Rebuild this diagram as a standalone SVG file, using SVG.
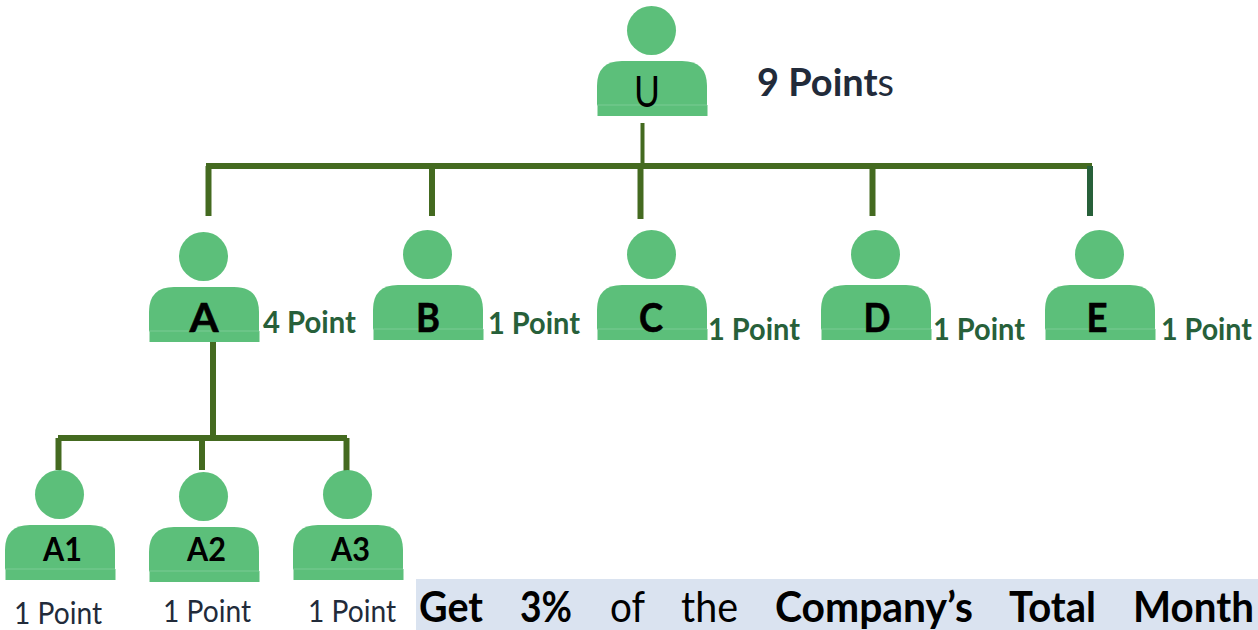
<svg xmlns="http://www.w3.org/2000/svg" width="1258" height="630" viewBox="0 0 1258 630">
<style>
text{font-family:"Lato","Open Sans","Liberation Sans",sans-serif;}
.c{stroke:#446a20;fill:none;}
.n{font-size:41px;font-weight:700;fill:#000;text-anchor:middle;stroke:#000;stroke-width:.6px;}
.s{font-size:33px;font-weight:700;fill:#000;}
.g{font-size:31px;font-weight:700;fill:#27603a;}
.d{font-size:30px;fill:#222b3a;}
.w{font-size:42px;fill:#000;}
.b{font-weight:700;}
.h{font-size:38px;fill:#222b3a;}
</style>
<defs>
<g id="person">
<circle cx="54.5" cy="-30.500" r="24.5" fill="#5cbf7a"/>
<path d="M0 44V25Q0 0 25 0H85Q110 0 110 25V44Z" fill="#5cbf7a"/>
<rect x="0.500" y="44" width="110" height="11" fill="#5cbf7a"/>
<rect x="0" y="43.500" width="110" height="1" fill="#7bcb94"/>
</g>
</defs>
<g id="connectors">
<path class="c" stroke-width="4" d="M642.500 123V166"/>
<path class="c" stroke-width="6" d="M206 166H1092"/>
<path class="c" stroke-width="6" d="M208.500 166V216"/>
<path class="c" stroke-width="6" d="M432 166V216"/>
<path class="c" stroke-width="6" d="M640.500 166V219"/>
<path class="c" stroke-width="6" d="M872.500 166V216"/>
<path stroke="#27603a" fill="none" stroke-width="6" d="M1090 166V216"/>
<path class="c" stroke-width="6" d="M213 342V438"/>
<path class="c" stroke-width="6" d="M58 438H347"/>
<path class="c" stroke-width="6" d="M58.500 438V470"/>
<path class="c" stroke-width="6" d="M202 438V470"/>
<path class="c" stroke-width="6" d="M346.500 438V472"/>
</g>
<g id="node-U"><use href="#person" x="597" y="61"/><text x="647" y="107" font-size="42" fill="#000" text-anchor="middle" textLength="26" lengthAdjust="spacingAndGlyphs">U</text></g>
<text class="h" x="757" y="96" textLength="137" lengthAdjust="spacingAndGlyphs"><tspan class="b">9 Point</tspan>s</text>
<g id="node-A"><use href="#person" x="149" y="287"/><text class="n" x="204" y="332" textLength="29" lengthAdjust="spacingAndGlyphs">A</text><text class="g" x="263" y="333" textLength="93" lengthAdjust="spacingAndGlyphs">4 Point</text></g>
<g id="node-B"><use href="#person" x="373" y="285"/><text class="n" x="428" y="332" textLength="24" lengthAdjust="spacingAndGlyphs">B</text><text class="g" x="488" y="334" textLength="92" lengthAdjust="spacingAndGlyphs">1 Point</text></g>
<g id="node-C"><use href="#person" x="597" y="285"/><text class="n" x="651" y="332" textLength="24" lengthAdjust="spacingAndGlyphs">C</text><text class="g" x="708" y="340" textLength="92" lengthAdjust="spacingAndGlyphs">1 Point</text></g>
<g id="node-D"><use href="#person" x="821" y="285"/><text class="n" x="877" y="332" textLength="27" lengthAdjust="spacingAndGlyphs">D</text><text class="g" x="933" y="340" textLength="92" lengthAdjust="spacingAndGlyphs">1 Point</text></g>
<g id="node-E"><use href="#person" x="1045" y="285"/><text class="n" x="1097" y="332" textLength="21" lengthAdjust="spacingAndGlyphs">E</text><text class="g" x="1161" y="340" textLength="91" lengthAdjust="spacingAndGlyphs">1 Point</text></g>
<g id="node-A1"><use href="#person" x="5" y="525"/><text class="s" x="43" y="561" textLength="39" lengthAdjust="spacingAndGlyphs">A1</text><text class="d" x="14" y="624" textLength="88" lengthAdjust="spacingAndGlyphs">1 Point</text></g>
<g id="node-A2"><use href="#person" x="149" y="527"/><text class="s" x="187" y="561" textLength="39" lengthAdjust="spacingAndGlyphs">A2</text><text class="d" x="163" y="622" textLength="88" lengthAdjust="spacingAndGlyphs">1 Point</text></g>
<g id="node-A3"><use href="#person" x="293" y="525"/><text class="s" x="331" y="561" textLength="39" lengthAdjust="spacingAndGlyphs">A3</text><text class="d" x="308" y="622" textLength="88" lengthAdjust="spacingAndGlyphs">1 Point</text></g>
<rect x="416" y="579" width="842" height="51" fill="#dae3f0"/>
<g>
<text class="w b" x="419" y="622" textLength="64" lengthAdjust="spacingAndGlyphs">Get</text>
<text class="w b" x="520" y="622" textLength="52" lengthAdjust="spacingAndGlyphs">3%</text>
<text class="w" x="610" y="622" textLength="35" lengthAdjust="spacingAndGlyphs">of</text>
<text class="w" x="681" y="622" textLength="57" lengthAdjust="spacingAndGlyphs">the</text>
<text class="w b" x="775" y="622" textLength="198" lengthAdjust="spacingAndGlyphs">Company’s</text>
<text class="w b" x="1009" y="622" textLength="87" lengthAdjust="spacingAndGlyphs">Total</text>
<text class="w b" x="1133" y="622" textLength="121" lengthAdjust="spacingAndGlyphs">Month</text>
</g>
</svg>
